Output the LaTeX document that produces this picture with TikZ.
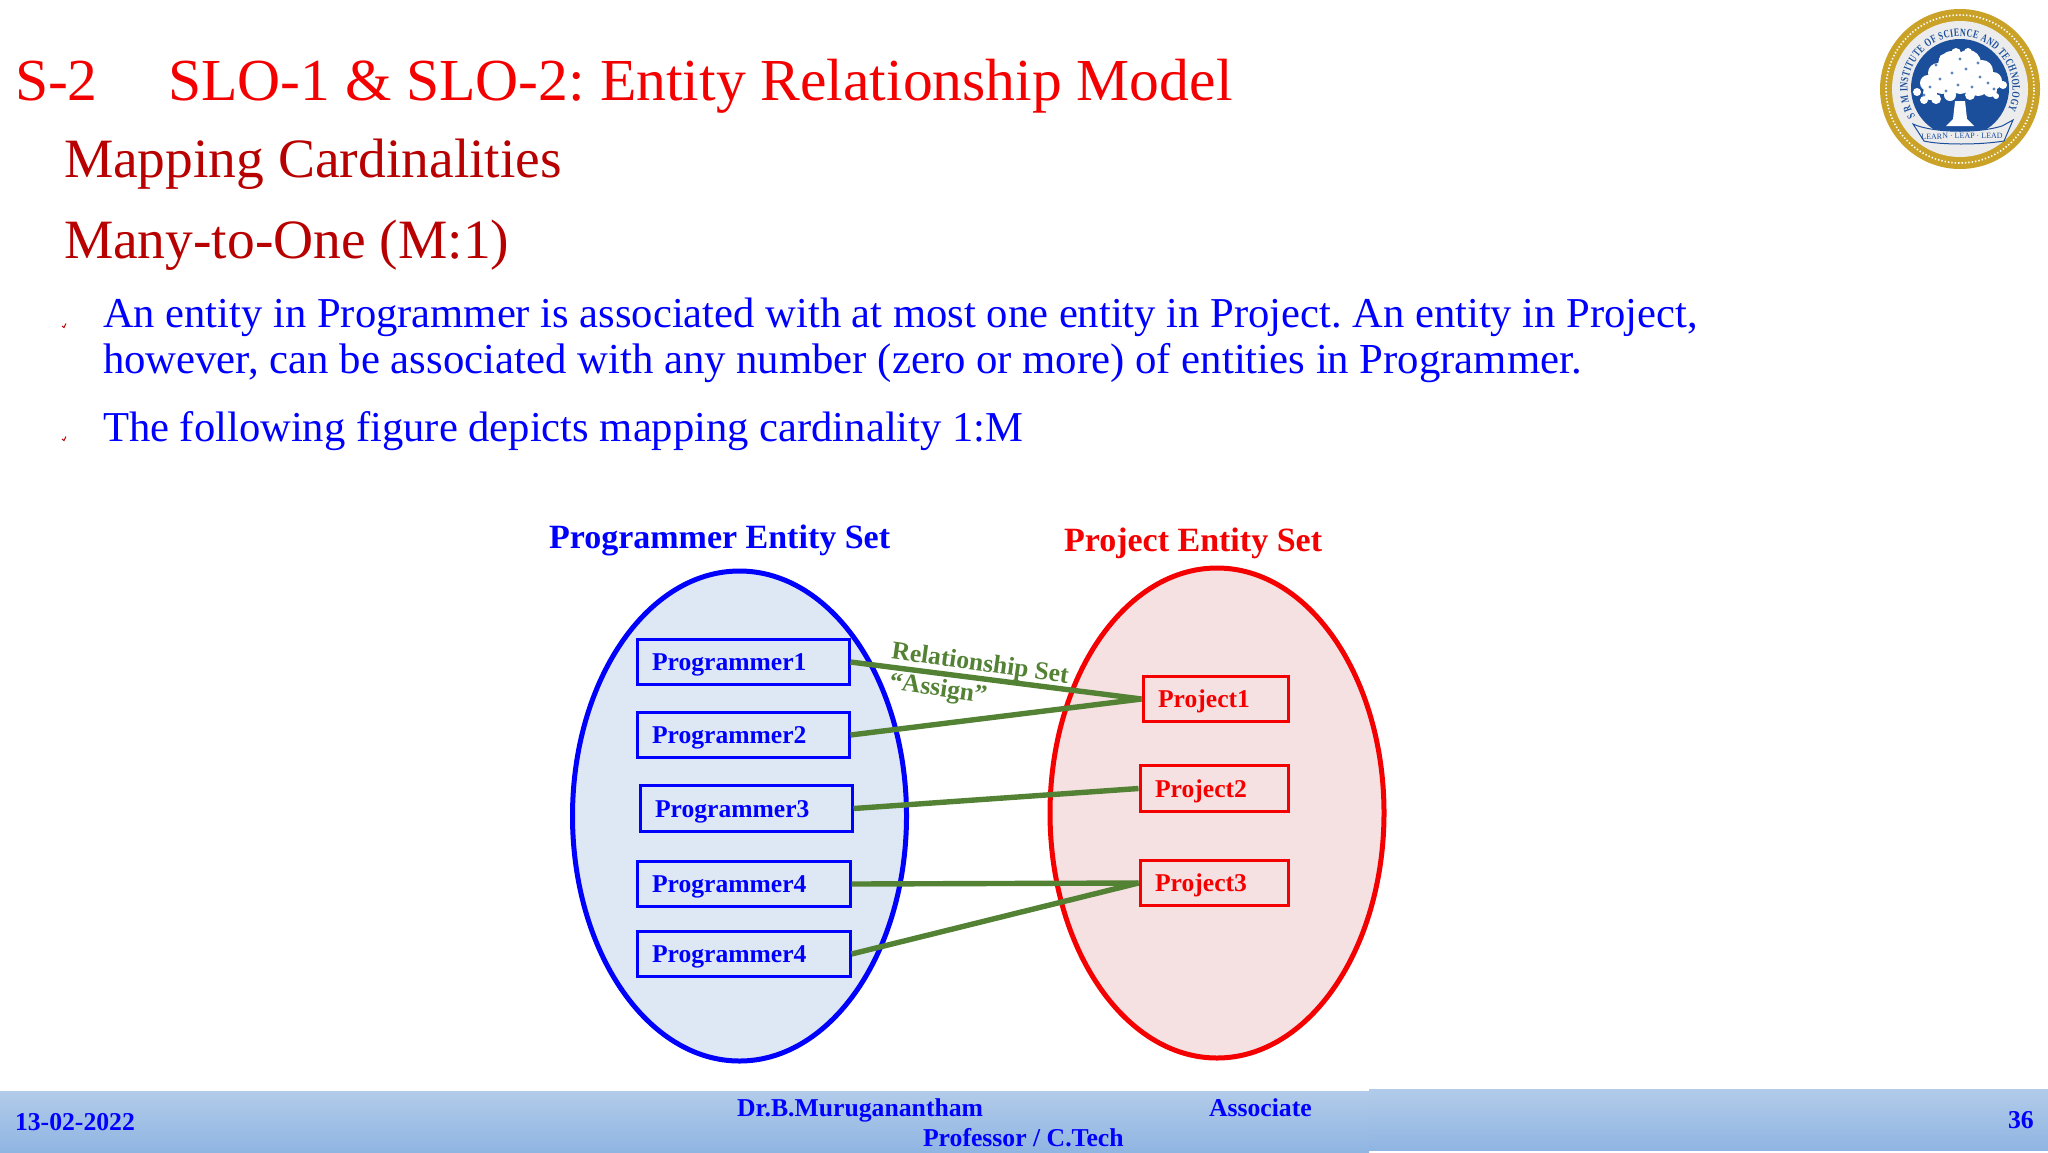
\documentclass[tikz,border=0pt]{standalone}
\usepackage{fontspec}
\setmainfont{Liberation Serif}
\newfontfamily\sealfont[FakeStretch=0.72]{Liberation Serif}
\usetikzlibrary{shapes.geometric,decorations.text}
\definecolor{slidered}{HTML}{F40000}
\definecolor{darkred}{HTML}{B80000}
\definecolor{rel}{HTML}{548235}
\definecolor{bluefill}{HTML}{DEE8F4}
\definecolor{redfill}{HTML}{F5E0E2}
\definecolor{bandtop}{HTML}{B2CBE9}
\definecolor{bandbot}{HTML}{8FB5E2}
\definecolor{gold}{HTML}{C9A227}
\definecolor{seal}{HTML}{1B4F9C}
\definecolor{ringgray}{HTML}{ECECEC}
\frenchspacing
\tikzset{
  txt/.style={inner sep=0pt,outer sep=0pt,anchor=base west},
  titletxt/.style={txt,text=slidered,font=\fontsize{29.8}{29.8}\selectfont},
  headtxt/.style={txt,text=darkred,font=\fontsize{27.75}{27.75}\selectfont},
  bodytxt/.style={txt,text=blue,font=\fontsize{21.3}{21.3}\selectfont},
  settxt/.style={txt,font=\fontsize{17}{17}\selectfont\bfseries},
  boxtxt/.style={font=\fontsize{12.8}{12.8}\selectfont\bfseries,inner sep=0pt},
  foot/.style={txt,text=blue,font=\fontsize{12.85}{12.85}\selectfont\bfseries},
  pbox/.style={draw=blue,line width=1.5pt,text=blue},
  rbox/.style={draw=slidered,line width=1.5pt,text=slidered},
  setell/.style={ellipse,inner sep=0pt,line width=2.5pt},
  link/.style={draw=rel,line width=2.7pt},
  rellabel/.style={text=rel,font=\fontsize{12.8}{12.8}\selectfont\bfseries,inner sep=0pt,rotate=-8},
  tick/.style={draw=darkred,line width=0.5pt},
}
\newcommand{\boxat}[7]{% name, style, x1, y1, x2, y2, text
  \node[#2,boxtxt,minimum width={(#5-#3)*0.5pt},minimum height={(#6-#4)*0.5pt},anchor=north west] (#1) at (#3,#4) {};
  \node[boxtxt,#2,draw=none,anchor=base west] (#1t) at ({#3+15},{(#4+#6)/2+10}) {#7};
}
\begin{document}
\begin{tikzpicture}[x=0.5pt,y=-0.5pt]
\useasboundingbox (0,0) rectangle (2048,1152);
\fill[white] (0,0) rectangle (2048,1152);

% footer
\fill[top color=bandtop,bottom color=bandbot] (0,1091) rectangle (1369,1152);
\fill[top color=bandtop,bottom color=bandbot] (1369,1089) rectangle (2048,1150);

% titles
\node[titletxt] (t1) at (15,100) {S-2};
\node[titletxt] (t2) at (168,100) {SLO-1 \& SLO-2: Entity Relationship Model};
\node[headtxt] (h1) at (64,177) {Mapping Cardinalities};
\node[headtxt] (h2) at (64,258) {Many-to-One (M:1)};
\node[bodytxt] (b1) at (103,327.5) {An entity in Programmer is associated with at most one entity in Project. An entity in Project,};
\node[bodytxt,font=\fontsize{21.38}{21.38}\selectfont] (b2) at (103,373.5) {however, can be associated with any number (zero or more) of entities in Programmer.};
\node[bodytxt] (b3) at (103,441.5) {The following figure depicts mapping cardinality 1:M};
\draw[tick] (62,326) -- (64,327.5) -- (66,323.5);
\draw[tick] (62,439) -- (64,440.5) -- (66,436.5);

% entity sets
\node[setell,draw=blue,fill=bluefill,minimum width=167pt,minimum height=245pt] (eprog) at (739.5,816) {};
\node[setell,draw=slidered,fill=redfill,minimum width=167pt,minimum height=245pt] (eproj) at (1217,813) {};
\node[settxt,text=blue] (sprog) at (549,548) {Programmer Entity Set};
\node[settxt,text=slidered] (sproj) at (1064,551) {Project Entity Set};

% boxes
\boxat{p1}{pbox}{635.5}{638}{847.5}{683}{Programmer1}
\boxat{p2}{pbox}{635.5}{711}{847.5}{756}{Programmer2}
\boxat{p3}{pbox}{638.5}{784}{850.5}{830}{Programmer3}
\boxat{p4}{pbox}{635.5}{860}{848.5}{905}{Programmer4}
\boxat{p5}{pbox}{635.5}{930}{848.5}{975}{Programmer4}
\boxat{r1}{rbox}{1141.5}{675}{1286.5}{720}{Project1}
\boxat{r2}{rbox}{1138.5}{764}{1286.5}{810}{Project2}
\boxat{r3}{rbox}{1138.5}{859}{1286.5}{904}{Project3}

% connectors
\draw[link] (p1.east) -- (r1.west);
\draw[link] (p2.east) -- (r1.west);
\draw[link] (p3.east) -- (r2.west);
\draw[link] (p4.east) -- (r3.west);
\draw[link] (p5.east) -- (r3.west);
\node[rellabel] (rl1) at (980,665) {Relationship Set};
\node[rellabel] (rl2) at (938,690) {“Assign”};

% footer text
\node[foot] (f1) at (15,1130) {13-02-2022};
\node[foot] (f2) at (737,1116) {Dr.B.Muruganantham};
\node[foot] (f3) at (1209,1116) {Associate};
\node[foot] (f4) at (923,1146) {Professor / C.Tech};
\node[foot] (f5) at (2008,1128) {36};

% logo
\begin{scope}[shift={(1960,89)},x=0.5pt,y=0.5pt]
  \fill[gold] (0,0) circle (80);
  \fill[ringgray] (0,0) circle (68);
  \draw[white,line width=0.8pt,dash pattern=on 0.7pt off 1pt] (0,0) circle (74);
  \fill[seal] (0,1) circle (49);
  % trunk
  \fill[white] (-5,-12) -- (5,-12) -- (7,-30) -- (14,-37) -- (-14,-37) -- (-7,-30) -- cycle;
  % canopy
  \foreach \a/\b/\r in {-8/24/14,8/26/13,-22/16/10,22/18/11,-32/6/8,33/8/9,-43/-3/4,-30/-4/7,-18/5/10,0/8/13,18/4/11,30/-1/7,43/4/4,-4/36/5,8/37/4,-16/30/5,-36/-11/4,-24/-10/5,-10/-6/6,10/-6/5,36/-7/3}{
    \fill[white] (\a,\b) circle (\r);
  }
  \foreach \a/\b in {-20/10,-8/16,6/20,20/12,-30/2,12/2,28/6,-14/-2,0/30,-24/24,18/26,34/0,-2/4,-36/-6}{
    \fill[seal!70] (\a,\b) circle (1.6);
  }
  % ribbon
  \filldraw[fill=ringgray,draw=seal,line width=0.5pt] (-47,-35) -- (-42,-37) .. controls (-20,-44) and (20,-44) .. (42,-37) -- (53,-31) -- (44,-52) .. controls (20,-56) and (-20,-56) .. (-36,-52) -- cycle;
  \node[text=seal,inner sep=0pt,font=\fontsize{4}{4}\selectfont,rotate=1] (motto) at (2,-47) {LEARN · LEAP · LEAD};
  % ring text
  \path[decorate,decoration={text along path,text align={fit to path},text color=seal,
    text={|\fontsize{5.6}{5.6}\sealfont\bfseries|S R M INSTITUTE OF SCIENCE AND TECHNOLOGY}}]
    (212:52.5) arc[start angle=212,end angle=-24,radius=52.5];
\end{scope}
\end{tikzpicture}
\end{document}
